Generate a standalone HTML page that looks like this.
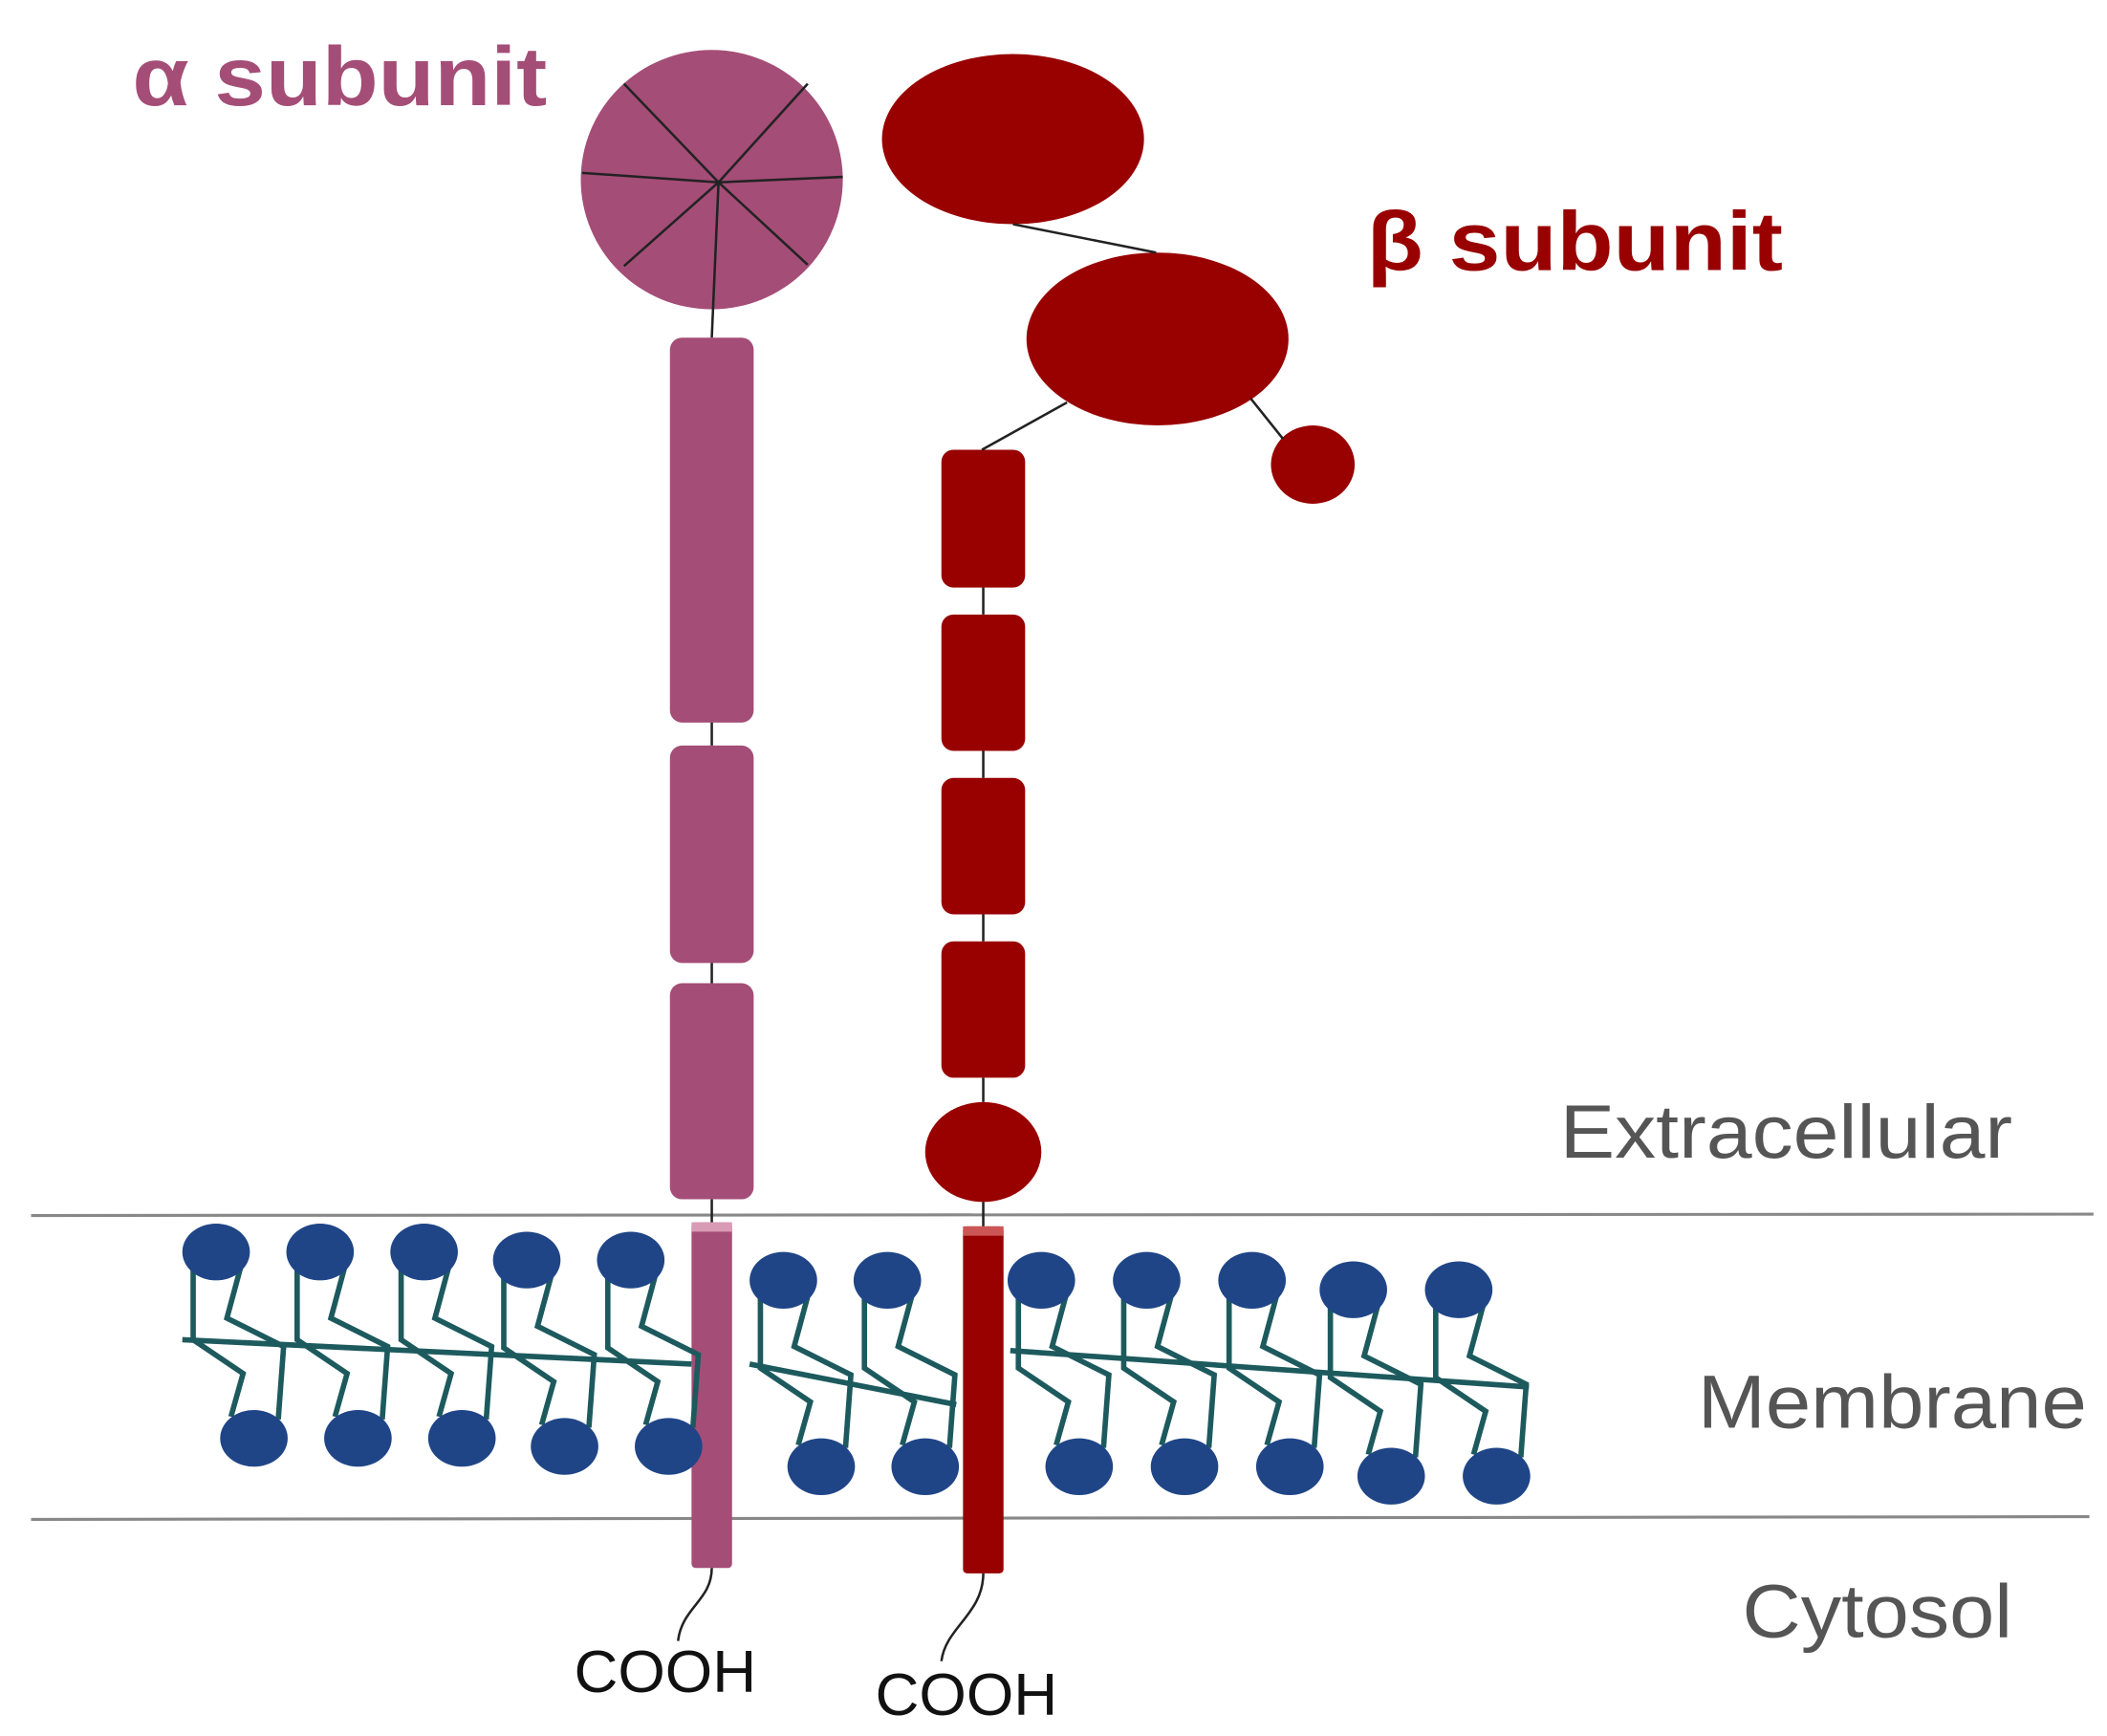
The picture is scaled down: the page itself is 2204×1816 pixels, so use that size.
<!DOCTYPE html>
<html><head><meta charset="utf-8"><style>
html,body{margin:0;padding:0;background:#fff;}
svg{display:block;}
</style></head><body>
<svg width="2204" height="1816" viewBox="0 0 1560 1285.4" preserveAspectRatio="none" xmlns="http://www.w3.org/2000/svg">
<rect width="1560" height="1286" fill="#fff"/>
<!-- membrane lines -->
<line x1="23" y1="900" x2="1550" y2="899" stroke="#888" stroke-width="2.2"/>
<line x1="23" y1="1125" x2="1547" y2="1123" stroke="#888" stroke-width="2.2"/>

<!-- alpha -->
<g fill="#a44d77">
<text x="98" y="78" font-family="Liberation Sans, sans-serif" font-weight="bold" font-size="62" textLength="307" lengthAdjust="spacingAndGlyphs">α subunit</text>
<ellipse cx="527" cy="133" rx="97" ry="96"/>
<rect x="496" y="250" width="62" height="285" rx="9"/>
<rect x="496" y="552" width="62" height="161" rx="9"/>
<rect x="496" y="728" width="62" height="160" rx="9"/>
<rect x="512" y="905" width="30" height="256" rx="3"/>
</g>
<rect x="512" y="905" width="30" height="7" fill="#d89ab5"/>
<g stroke="#222" stroke-width="1.8" fill="none">
<line x1="532" y1="135" x2="462" y2="62"/>
<line x1="532" y1="135" x2="598" y2="62"/>
<line x1="532" y1="135" x2="431" y2="128"/>
<line x1="532" y1="135" x2="624" y2="131"/>
<line x1="532" y1="135" x2="462" y2="197"/>
<line x1="532" y1="135" x2="598" y2="196"/>
<line x1="532" y1="135" x2="527" y2="250"/>
<line x1="527" y1="535" x2="527" y2="552"/>
<line x1="527" y1="713" x2="527" y2="728"/>
<line x1="527" y1="888" x2="527" y2="905"/>
<path d="M527 1161 C527 1185 505 1190 502 1215"/>
</g>

<!-- beta -->
<g fill="#990000">
<text x="1012" y="200" font-family="Liberation Sans, sans-serif" font-weight="bold" font-size="62" textLength="308" lengthAdjust="spacingAndGlyphs">β subunit</text>
<ellipse cx="750" cy="103" rx="97" ry="63"/>
<ellipse cx="857" cy="251" rx="97" ry="64"/>
<ellipse cx="972" cy="344" rx="31" ry="29"/>
<rect x="697" y="333" width="62" height="102" rx="9"/>
<rect x="697" y="455" width="62" height="101" rx="9"/>
<rect x="697" y="576" width="62" height="101" rx="9"/>
<rect x="697" y="697" width="62" height="101" rx="9"/>
<ellipse cx="728" cy="853" rx="43" ry="37"/>
<rect x="713" y="908" width="30" height="257" rx="3"/>
</g>
<rect x="713" y="908" width="30" height="7" fill="#c55"/>
<g stroke="#222" stroke-width="1.8" fill="none">
<line x1="750" y1="166" x2="856" y2="187"/>
<line x1="790" y1="298" x2="727" y2="333"/>
<line x1="926" y1="295" x2="950" y2="325"/>
<line x1="728" y1="435" x2="728" y2="455"/>
<line x1="728" y1="556" x2="728" y2="576"/>
<line x1="728" y1="677" x2="728" y2="697"/>
<line x1="728" y1="798" x2="728" y2="816"/>
<line x1="728" y1="890" x2="728" y2="908"/>
<path d="M728 1165 C728 1195 700 1205 697 1230"/>
</g>

<!-- lipids -->
<defs>
<g id="lip">
<path d="M-17 10 V65 L20 90 L11 122 M18 12 L8 49 L50 70 L46 124" stroke="#1d5a5e" stroke-width="4" fill="none"/>
<ellipse cx="0" cy="0" rx="25" ry="21" fill="#1f4587"/>
<ellipse cx="28" cy="138" rx="25" ry="21" fill="#1f4587"/>
</g>
</defs>
<g stroke="#1d5a5e" stroke-width="4">
<line x1="135" y1="992" x2="512" y2="1010"/>
<line x1="555" y1="1010" x2="708" y2="1040"/>
<line x1="748" y1="1000" x2="1132" y2="1027"/>
</g>
<use href="#lip" x="160" y="927"/>
<use href="#lip" x="237" y="927"/>
<use href="#lip" x="314" y="927"/>
<use href="#lip" x="390" y="933"/>
<use href="#lip" x="467" y="933"/>
<use href="#lip" x="580" y="948"/>
<use href="#lip" x="657" y="948"/>
<use href="#lip" x="771" y="948"/>
<use href="#lip" x="849" y="948"/>
<use href="#lip" x="927" y="948"/>
<use href="#lip" x="1002" y="955"/>
<use href="#lip" x="1080" y="955"/>

<!-- labels -->
<g font-family="Liberation Sans, sans-serif" fill="#555">
<text x="1155" y="857" font-size="56" textLength="335" lengthAdjust="spacingAndGlyphs">Extracellular</text>
<text x="1257" y="1057" font-size="56" textLength="288" lengthAdjust="spacingAndGlyphs">Membrane</text>
<text x="1290" y="1212" font-size="56" textLength="200" lengthAdjust="spacingAndGlyphs">Cytosol</text>
</g>
<g font-family="Liberation Sans, sans-serif" fill="#111" font-size="44">
<text x="425" y="1253" textLength="135" lengthAdjust="spacingAndGlyphs">COOH</text>
<text x="648" y="1270" textLength="135" lengthAdjust="spacingAndGlyphs">COOH</text>
</g>
</svg>
</body></html>
